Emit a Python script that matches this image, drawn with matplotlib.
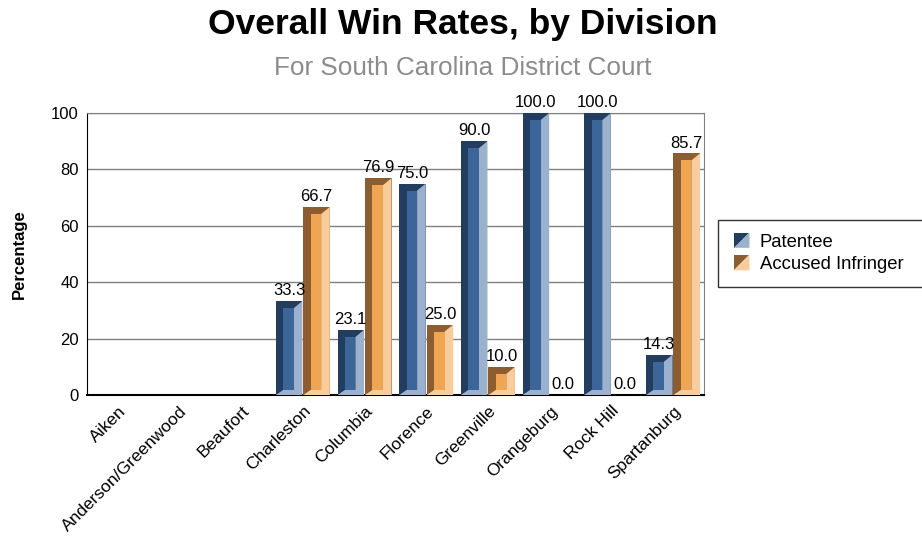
import numpy as np
import matplotlib
matplotlib.use('Agg')
import matplotlib.pyplot as plt
from matplotlib.patches import Polygon, Rectangle
from matplotlib.legend_handler import HandlerBase

plt.rcParams['font.family'] = ['Liberation Sans', 'DejaVu Sans']

divisions = ['Aiken', 'Anderson/Greenwood', 'Beaufort', 'Charleston', 'Columbia',
             'Florence', 'Greenville', 'Orangeburg', 'Rock Hill', 'Spartanburg']
patentee = [np.nan, np.nan, np.nan, 33.3, 23.1, 75.0, 90.0, 100.0, 100.0, 14.3]
infringer = [np.nan, np.nan, np.nan, 66.7, 76.9, 25.0, 10.0, 0.0, 0.0, 85.7]
yticks = [0, 20, 40, 60, 80, 100]

# dark / mid / light shades for each series
blue = ('#233d5f', '#3c659a', '#9bb1cd')
orange = ('#8c5d31', '#f0a552', '#f9cc9c')


def beveled_bar(ax, x, w, h, cols):
    # Draw a bar with a bevelled frame: dark left/top, light right/bottom
    if np.isnan(h) or h <= 0:
        return
    bl, br = 0.12, 0.14          # horizontal bevels (data units)
    bt, bb = 2.5, 1.8            # vertical bevels (data units)
    bt = min(bt, h * 0.3)
    bb = min(bb, h * 0.2)
    ax.add_patch(Rectangle((x, 0), w, h, facecolor=cols[0], edgecolor='none', zorder=3))
    ax.add_patch(Polygon([(x, 0), (x + w, 0), (x + w, h), (x + w - br, h - bt),
                          (x + w - br, bb), (x + bl, bb)],
                         closed=True, facecolor=cols[2], edgecolor='none', zorder=3))
    ax.add_patch(Rectangle((x + bl, bb), w - bl - br, h - bt - bb,
                           facecolor=cols[1], edgecolor='none', zorder=3))


class TriHandler(HandlerBase):
    def __init__(self, cols):
        super().__init__()
        self.cols = cols

    def create_artists(self, legend, orig_handle, xd, yd, width, height, fontsize, trans):
        s = 11.0
        x0 = xd + 1.5
        y0 = yd + (height - s) / 2
        up = Polygon([(x0, y0), (x0, y0 + s), (x0 + s, y0 + s)], closed=True,
                     facecolor=self.cols[0], edgecolor='none', transform=trans)
        lo = Polygon([(x0, y0), (x0 + s, y0 + s), (x0 + s, y0)], closed=True,
                     facecolor=self.cols[2], edgecolor='none', transform=trans)
        return [up, lo]


fig = plt.figure(figsize=(9.22, 5.40), dpi=100)
ax = fig.add_axes([0.0944, 0.2685, 0.6692, 0.5222])

w = 0.43
x = np.arange(len(divisions))
for i in range(len(divisions)):
    beveled_bar(ax, x[i] - 0.44, w, patentee[i], blue)
    beveled_bar(ax, x[i] + 0.005, w, infringer[i], orange)
    if not np.isnan(patentee[i]):
        ax.text(x[i] - 0.44 + w / 2, patentee[i] + 1.0, '%.1f' % patentee[i],
                ha='center', va='bottom', fontsize=12, zorder=4)
    if not np.isnan(infringer[i]):
        ax.text(x[i] + 0.005 + w / 2, infringer[i] + 1.0, '%.1f' % infringer[i],
                ha='center', va='bottom', fontsize=12, zorder=4)

ax.set_xlim(-0.5, len(divisions) - 0.5)
ax.set_ylim(0, 100)
ax.set_yticks(yticks)
ax.set_yticklabels([str(t) for t in yticks], fontsize=12)
ax.set_xticks(x)
ax.set_xticklabels(divisions, rotation=45, ha='right', rotation_mode='anchor', fontsize=12.5)
ax.tick_params(length=0, pad=6)
ax.yaxis.grid(True, color='#808080', linewidth=1)
ax.set_axisbelow(True)
for s in ['top', 'right']:
    ax.spines[s].set_color('#808080')
for s in ['left', 'bottom']:
    ax.spines[s].set_color('black')
ax.spines['bottom'].set_linewidth(1.5)

ax.set_ylabel('Percentage', fontsize=12, fontweight='bold', labelpad=17)

fig.text(0.502, 0.955, 'Overall Win Rates, by Division', ha='center', va='center',
         fontsize=25.5, fontweight='bold')
fig.text(0.502, 0.874, 'For South Carolina District Court', ha='center', va='center',
         fontsize=18.8, color='#8c8c8c')

h1 = Rectangle((0, 0), 1, 1)
h2 = Rectangle((0, 0), 1, 1)
leg = fig.legend([h1, h2], ['Patentee', 'Accused Infringer'],
                 handler_map={h1: TriHandler(blue), h2: TriHandler(orange)},
                 loc='upper left', bbox_to_anchor=(0.779, 0.468, 0.24, 0.125),
                 mode='expand', borderaxespad=0,
                 fontsize=13.3, frameon=True, fancybox=False, borderpad=0.75,
                 handlelength=0.85, handletextpad=0.65, labelspacing=0.3)
leg.get_frame().set_edgecolor('black')
leg.get_frame().set_linewidth(1)

fig.savefig('out.png', dpi=100)
